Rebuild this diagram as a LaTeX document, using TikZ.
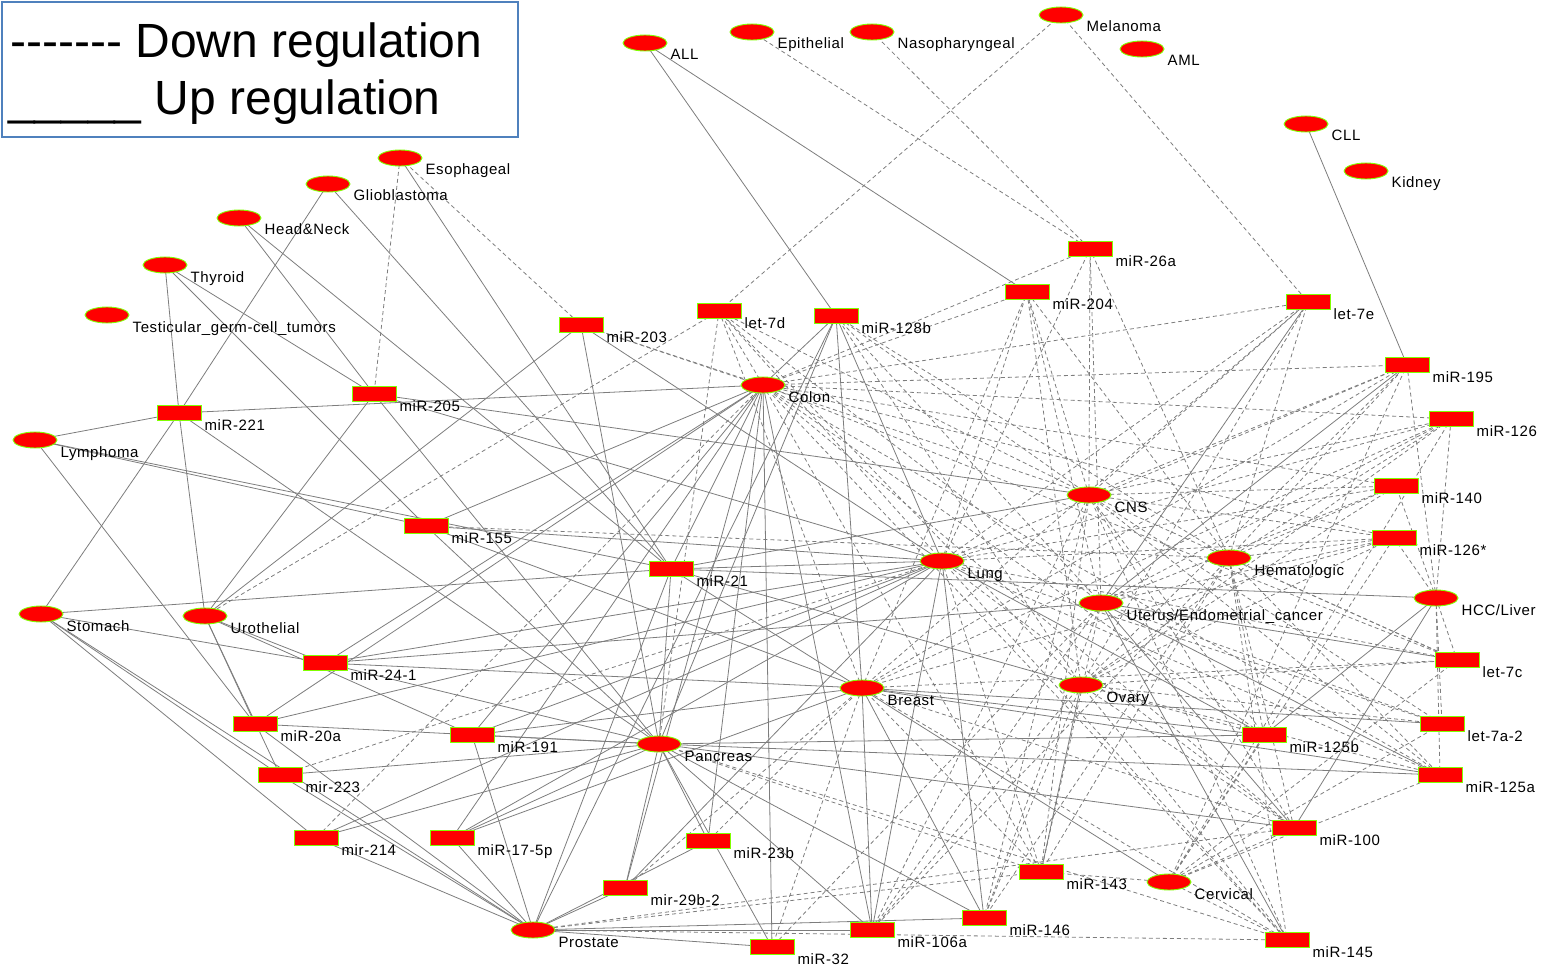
\documentclass[tikz,border=0pt]{standalone}
\usepackage{fontspec}
\setmainfont{Liberation Sans}
\newfontfamily\labfont{Liberation Sans}[LetterSpace=4]
\usetikzlibrary{shapes.geometric}
\pgfdeclarelayer{bg}
\pgfsetlayers{bg,main}
\definecolor{nodered}{RGB}{255,0,0}
\definecolor{nodeedge}{RGB}{128,255,0}
\definecolor{edgegray}{RGB}{125,125,125}
\definecolor{legblue}{RGB}{79,129,189}
\newcommand\hy{-\kern0pt}
\newcommand\Dis[4]{\node[dis] (#1) at (#2,#3) {}; \node[lbl] (#1-l) at ([shift={(3,17)}]#1.east) {#4};}
\newcommand\Mir[4]{\node[mir] (#1) at (#2,#3) {}; \node[lbl] (#1-l) at ([shift={(3,17)}]#1.east) {#4};}
\begin{document}
\begin{tikzpicture}[x=1pt,y=-1pt,
 dis/.style={ellipse, draw=nodeedge, fill=nodered, line width=0.9pt, minimum width=44pt, minimum height=16pt, inner sep=0pt},
 mir/.style={rectangle, draw=nodeedge, fill=nodered, line width=0.9pt, minimum width=44pt, minimum height=15pt, inner sep=0pt},
 lbl/.style={anchor=base west, inner sep=0pt, font=\labfont\fontsize{15}{16}\selectfont},
 legtext/.style={anchor=base west, inner sep=0pt, font=\fontsize{48}{50}\selectfont},
 upr/.style={draw=edgegray, line width=0.8pt},
 dnr/.style={draw=edgegray, line width=0.8pt, dash pattern=on 4pt off 3pt}]
\useasboundingbox (0,0) rectangle (1549,968);
% legend
\node[draw=legblue, line width=2pt, minimum width=516pt, minimum height=135pt, anchor=north west, inner sep=0pt] (legend) at (1,1) {};
\node[legtext] (legdown) at (10,58) {\hy\hy\hy\hy\hy\hy\hy{} Down regulation};
\node[legtext] (legup) at (8,115) {\_\_\_\_\_ Up regulation};
% diseases
\Dis{ALL}{645}{43}{ALL}
\Dis{Epi}{752}{32}{Epithelial}
\Dis{Naso}{872}{32}{Nasopharyngeal}
\Dis{Mel}{1061}{15}{Melanoma}
\Dis{AML}{1142}{49}{AML}
\Dis{CLL}{1306}{124}{CLL}
\Dis{Kid}{1366}{171}{Kidney}
\Dis{Eso}{400}{158}{Esophageal}
\Dis{Glio}{328}{184}{Glioblastoma}
\Dis{HN}{239}{218}{Head\&Neck}
\Dis{Thy}{165}{265}{Thyroid}
\Dis{Tes}{107}{315}{Testicular\_germ-cell\_tumors}
\Dis{Lym}{35}{440}{Lymphoma}
\Dis{Sto}{41}{614}{Stomach}
\Dis{Uro}{205}{616}{Urothelial}
\Dis{Col}{763}{385}{Colon}
\Dis{CNS}{1089}{495}{CNS}
\Dis{Lun}{942}{561}{Lung}
\Dis{Hem}{1229}{558}{Hematologic}
\Dis{Ute}{1101}{603}{Uterus/Endometrial\_cancer}
\Dis{HCC}{1436}{598}{HCC/Liver}
\Dis{Bre}{862}{688}{Breast}
\Dis{Ova}{1081}{685}{Ovary}
\Dis{Pan}{659}{744}{Pancreas}
\Dis{Cer}{1169}{882}{Cervical}
\Dis{Pro}{533}{930}{Prostate}
% miRNAs
\Mir{r26a}{1090}{249}{miR-26a}
\Mir{r204}{1027}{292}{miR-204}
\Mir{l7e}{1308}{302}{let-7e}
\Mir{l7d}{719}{311}{let-7d}
\Mir{r128b}{836}{316}{miR-128b}
\Mir{r203}{581}{325}{miR-203}
\Mir{r195}{1407}{365}{miR-195}
\Mir{r205}{374}{394}{miR-205}
\Mir{r221}{179}{413}{miR-221}
\Mir{r126}{1451}{419}{miR-126}
\Mir{r140}{1396}{486}{miR-140}
\Mir{r155}{426}{526}{miR-155}
\Mir{r126s}{1394}{538}{miR-126*}
\Mir{r21}{671}{569}{miR-21}
\Mir{l7c}{1457}{660}{let-7c}
\Mir{r241}{325}{663}{miR-24-1}
\Mir{r20a}{255}{724}{miR-20a}
\Mir{l7a2}{1442}{724}{let-7a-2}
\Mir{r191}{472}{735}{miR-191}
\Mir{r125b}{1264}{735}{miR-125b}
\Mir{r223}{280}{775}{mir-223}
\Mir{r125a}{1440}{775}{miR-125a}
\Mir{r214}{316}{838}{mir-214}
\Mir{r175p}{452}{838}{miR-17-5p}
\Mir{r100}{1294}{828}{miR-100}
\Mir{r23b}{708}{841}{miR-23b}
\Mir{r143}{1041}{872}{miR-143}
\Mir{r29b}{625}{888}{mir-29b-2}
\Mir{r146}{984}{918}{miR-146}
\Mir{r106a}{872}{930}{miR-106a}
\Mir{r145}{1287}{940}{miR-145}
\Mir{r32}{772}{947}{miR-32}
\begin{pgfonlayer}{bg}
% up regulation (solid)
\foreach \a/\b in {ALL/r128b, ALL/r204, CLL/r195,
 Eso/r21, Glio/r21, Glio/r221, HN/r205, HN/r21, Thy/r221, Thy/r155, Thy/r205,
 Lym/r221, Lym/r20a, Lym/r155, Lym/r21,
 Sto/r221, Sto/r21, Sto/r241, Sto/r223, Sto/r214, Sto/Pro,
 Uro/r221, Uro/r205, Uro/r203, Uro/r20a, Uro/r223, Uro/r191, Uro/r241,
 Col/r221, Col/r155, Col/r241, Col/r20a, Col/r191, Col/r175p, Col/r29b, Col/r21, Col/r32, Col/r23b, Col/r128b, Col/r106a,
 Lun/r21, Lun/r155, Lun/r205, Lun/r191, Lun/r175p, Lun/r29b, Lun/r106a, Lun/r146, Lun/r128b, Lun/r203, Lun/r241, Lun/r20a, Lun/r214, Lun/r125b,
 Bre/r155, Bre/r191, Bre/r175p, Bre/r128b, Bre/r146, Bre/r106a, Bre/r125b, Bre/l7a2, Bre/r241, Bre/r125a,
 Pan/r21, Pan/r155, Pan/r191, Pan/r175p, Pan/r23b, Pan/r29b, Pan/r32, Pan/r106a, Pan/r146, Pan/r241, Pan/r20a, Pan/r223, Pan/r214, Pan/r221, Pan/r205, Pan/r203, Pan/r100, Pan/r125b, Pan/r125a, Pan/r128b,
 Pro/r223, Pro/r20a, Pro/r214, Pro/r175p, Pro/r191, Pro/r21, Pro/r29b, Pro/r32, Pro/r106a, Pro/r146, Pro/r128b, Pro/r23b,
 Ute/l7e, Ute/r195, Ute/r145, Ute/l7c, Ute/r125a, Ute/r241, Ute/r100,
 CNS/r21, CNS/r205, HCC/r21, HCC/r125b, HCC/r100, Ova/r21, Ova/r143, Cer/r21}
 \draw[upr] (\a.center) -- (\b.center);
% down regulation (dashed)
\foreach \a/\b in {Eso/r205, Eso/r203, Epi/r26a, Naso/r26a, Mel/l7d, Mel/l7e, Uro/l7d,
 Col/l7d, Col/l7e, Col/r26a, Col/r204, Col/r195, Col/r126, Col/r140, Col/r126s, Col/l7c, Col/r125a, Col/r125b, Col/r143, Col/r145, Col/r100, Col/r203, Col/r214,
 CNS/l7d, CNS/l7e, CNS/r26a, CNS/r204, CNS/r128b, CNS/r195, CNS/r126, CNS/r140, CNS/r126s, CNS/l7c, CNS/l7a2, CNS/r125a, CNS/r125b, CNS/r100, CNS/r143, CNS/r145, CNS/r146, CNS/r106a, CNS/r203,
 Lun/l7d, Lun/l7e, Lun/r26a, Lun/r204, Lun/r195, Lun/r126, Lun/r140, Lun/r126s, Lun/l7c, Lun/l7a2, Lun/r125a, Lun/r100, Lun/r143, Lun/r145, Lun/r223,
 Hem/r26a, Hem/r204, Hem/r128b, Hem/l7e, Hem/r195, Hem/r126, Hem/r140, Hem/r126s, Hem/l7c, Hem/r125a, Hem/r125b, Hem/r100, Hem/r143, Hem/r145, Hem/r146, Hem/r106a, Hem/r155,
 Ute/l7d, Ute/r26a, Ute/r204, Ute/r128b, Ute/r126, Ute/r140, Ute/r126s, Ute/r146, Ute/r106a, Ute/l7a2, Ute/r32, Ute/r143,
 Bre/l7d, Bre/l7e, Bre/r204, Bre/r195, Bre/r126, Bre/r126s, Bre/l7c, Bre/r100, Bre/r143, Bre/r145, Bre/r32, Bre/r23b, Bre/r29b,
 Ova/l7d, Ova/l7e, Ova/r204, Ova/r128b, Ova/r195, Ova/r126, Ova/r140, Ova/r126s, Ova/l7c, Ova/l7a2, Ova/r125a, Ova/r125b, Ova/r100, Ova/r145, Ova/r146, Ova/r106a,
 Cer/l7c, Cer/l7a2, Cer/r125a, Cer/r125b, Cer/r100, Cer/r145, Cer/r143, Cer/r195, Cer/r126, Cer/r126s,
 HCC/r195, HCC/r126, HCC/r140, HCC/r126s, HCC/l7c, HCC/l7a2, HCC/r125a,
 Pan/l7d, Pan/r145, Pan/r143, Pro/r145, Pro/r143, Pro/r100}
 \draw[dnr] (\a.center) -- (\b.center);
\end{pgfonlayer}
\end{tikzpicture}
\end{document}
